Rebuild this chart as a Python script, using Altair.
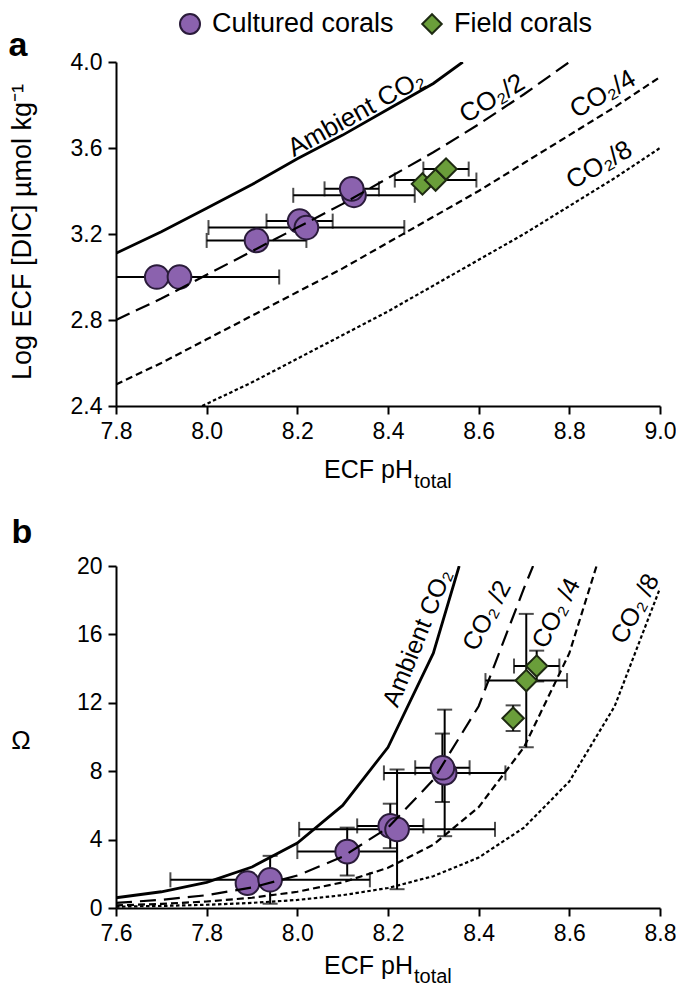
import altair as alt
import pandas as pd

FONT = "Liberation Sans"
PURPLE = "#8b62ae"
PURPLE_EDGE = "#2a1b3a"
GREEN = "#6a9e3a"
GREEN_EDGE = "#1e2a12"

# ---------------- data ----------------
# cultured corals
cult_ph = [7.89, 7.94, 8.11, 8.205, 8.22, 8.325, 8.32]
cult_ph_err = [0.0, 0.22, 0.11, 0.073, 0.216, 0.134, 0.06]
cult_logdic = [3.00, 3.00, 3.17, 3.26, 3.23, 3.38, 3.41]
cult_omega = [1.45, 1.65, 3.3, 4.8, 4.6, 7.9, 8.2]
cult_omega_err = [0.0, 1.4, 1.4, 1.3, 3.5, 3.7, 2.0]
# field corals
field_ph = [8.476, 8.505, 8.528]
field_ph_err = [0.0, 0.09, 0.05]
field_logdic = [3.433, 3.451, 3.502]
field_omega = [11.1, 13.3, 14.15]
field_omega_err = [0.75, 3.9, 0.9]

# panel a reference lines (log DIC vs pH)
a_amb_x = [7.8, 7.9, 8.0, 8.1, 8.2, 8.3, 8.4, 8.5, 8.565]
a_amb_y = [3.11, 3.21, 3.32, 3.43, 3.55, 3.66, 3.78, 3.90, 4.0]
a_half_x = [7.8, 7.9, 8.0, 8.1, 8.2, 8.3, 8.4, 8.5, 8.6, 8.7, 8.8]
a_half_y = [2.80, 2.90, 3.01, 3.12, 3.23, 3.34, 3.46, 3.58, 3.71, 3.85, 4.0]
a_quarter_x = [7.8, 7.9, 8.0, 8.1, 8.2, 8.3, 8.4, 8.5, 8.6, 8.7, 8.8, 8.9, 9.0]
a_quarter_y = [2.50, 2.60, 2.71, 2.82, 2.93, 3.04, 3.16, 3.28, 3.40, 3.53, 3.66, 3.79, 3.93]
a_eighth_x = [7.99, 8.0, 8.1, 8.2, 8.3, 8.4, 8.5, 8.6, 8.7, 8.8, 8.9, 9.0]
a_eighth_y = [2.40, 2.41, 2.51, 2.62, 2.73, 2.84, 2.96, 3.08, 3.20, 3.33, 3.46, 3.60]

# panel b reference lines (Omega vs pH)
b_amb_x = [7.6, 7.7, 7.8, 7.9, 8.0, 8.1, 8.2, 8.3, 8.357]
b_amb_y = [0.6, 0.95, 1.5, 2.4, 3.8, 6.0, 9.4, 14.9, 20.0]
b_half_x = [7.6, 7.7, 7.8, 7.9, 8.0, 8.1, 8.2, 8.3, 8.4, 8.5, 8.52]
b_half_y = [0.3, 0.48, 0.75, 1.2, 1.9, 3.0, 4.7, 7.5, 11.8, 18.7, 20.0]
b_quarter_x = [7.6, 7.7, 7.8, 7.9, 8.0, 8.1, 8.2, 8.3, 8.4, 8.5, 8.6, 8.66]
b_quarter_y = [0.15, 0.24, 0.38, 0.6, 0.95, 1.5, 2.35, 3.7, 5.9, 9.4, 14.9, 20.0]
b_eighth_x = [7.6, 7.7, 7.8, 7.9, 8.0, 8.1, 8.2, 8.3, 8.4, 8.5, 8.6, 8.7, 8.8]
b_eighth_y = [0.08, 0.12, 0.19, 0.3, 0.47, 0.75, 1.17, 1.86, 2.95, 4.7, 7.4, 11.8, 18.7]

a_x_ticks = [7.8, 8.0, 8.2, 8.4, 8.6, 8.8, 9.0]
a_y_ticks = [2.4, 2.8, 3.2, 3.6, 4.0]
b_x_ticks = [7.6, 7.8, 8.0, 8.2, 8.4, 8.6, 8.8]
b_y_ticks = [0, 4, 8, 12, 16, 20]

# ---------------- helpers ----------------
W_A, H_A = 544, 344
W_B, H_B = 544, 342
LBL = 23      # tick label size
TTL = 25      # axis title size
CRV = 26      # curve label size


def axis(values, fmt):
    return alt.Axis(values=values, format=fmt, title=None, grid=False,
                    domainColor="black", domainWidth=2, tickColor="black",
                    tickWidth=2, tickSize=8, labelFont=FONT, labelFontSize=LBL,
                    labelColor="black", labelPadding=6, labelFlush=False)


def scales(xdom, ydom, xt, yt, xfmt, yfmt):
    xs = alt.Scale(domain=xdom, nice=False, zero=False)
    ys = alt.Scale(domain=ydom, nice=False, zero=False)
    return (lambda f: alt.X(f, type="quantitative", scale=xs, axis=axis(xt, xfmt))), \
           (lambda f: alt.Y(f, type="quantitative", scale=ys, axis=axis(yt, yfmt)))


def curve(X, Y, xs, ys, dash, width):
    df = pd.DataFrame({"x": xs, "y": ys, "o": range(len(xs))})
    kw = dict(color="black", strokeWidth=width, clip=True)
    if dash:
        kw["strokeDash"] = dash
    return alt.Chart(df).mark_line(**kw).encode(X("x"), Y("y"), order="o:Q")


def herr(X, Y, xs, ys, errs):
    rows = [(x - e, x + e, y) for x, y, e in zip(xs, ys, errs) if e > 0]
    df = pd.DataFrame(rows, columns=["lo", "hi", "y"])
    caps = pd.DataFrame([(r[0], r[2]) for r in rows] + [(r[1], r[2]) for r in rows],
                        columns=["x", "y"])
    bar = alt.Chart(df).mark_rule(color="black", strokeWidth=2, clip=True).encode(
        X("lo"), x2="hi:Q", y=Y("y"))
    cap = alt.Chart(caps).mark_tick(color="black", orient="vertical", size=15,
                                    thickness=2, clip=True).encode(X("x"), Y("y"))
    return bar + cap


def verr(X, Y, xs, ys, errs):
    rows = [(x, y - e, y + e) for x, y, e in zip(xs, ys, errs) if e > 0]
    df = pd.DataFrame(rows, columns=["x", "lo", "hi"])
    caps = pd.DataFrame([(r[0], r[1]) for r in rows] + [(r[0], r[2]) for r in rows],
                        columns=["x", "y"])
    bar = alt.Chart(df).mark_rule(color="black", strokeWidth=2, clip=True).encode(
        X("x"), Y("lo"), y2="hi:Q")
    cap = alt.Chart(caps).mark_tick(color="black", orient="horizontal", size=15,
                                    thickness=2, clip=True).encode(X("x"), Y("y"))
    return bar + cap


def points(X, Y, xs, ys, shape, size, fill, edge):
    df = pd.DataFrame({"x": xs, "y": ys})
    return alt.Chart(df).mark_point(shape=shape, size=size, filled=True, fill=fill,
                                    stroke=edge, strokeWidth=2, opacity=1).encode(X("x"), Y("y"))


def label(X, Y, x, y, text, angle, size=CRV):
    df = pd.DataFrame({"x": [x], "y": [y], "t": [text]})
    return alt.Chart(df).mark_text(font=FONT, fontSize=size, angle=angle, color="black",
                                   align="center", baseline="middle").encode(
        X("x"), Y("y"), text="t:N")


def ptext(px, py, text, size=TTL, align="left", weight="normal", angle=0, baseline="alphabetic"):
    df = pd.DataFrame({"t": [text]})
    return alt.Chart(df).mark_text(font=FONT, fontSize=size, align=align, baseline=baseline,
                                   fontWeight=weight, angle=angle, color="black").encode(
        x=alt.value(px), y=alt.value(py), text="t:N")


# ---------------- panel a ----------------
XA, YA = scales([7.8, 9.0], [2.4, 4.0], a_x_ticks, a_y_ticks, ".1f", ".1f")

LEG_Y = -38
legend_pts = pd.DataFrame({"s": ["c"]})
leg_circle = alt.Chart(legend_pts).mark_point(shape="circle", size=400, filled=True, fill=PURPLE,
                                               stroke=PURPLE_EDGE, strokeWidth=2, opacity=1).encode(
    x=alt.value(74), y=alt.value(LEG_Y))
leg_diamond = alt.Chart(legend_pts).mark_point(shape="diamond", size=380, filled=True, fill=GREEN,
                                                stroke=GREEN_EDGE, strokeWidth=2, opacity=1).encode(
    x=alt.value(316), y=alt.value(LEG_Y))

panel_a = alt.layer(
    herr(XA, YA, cult_ph, cult_logdic, cult_ph_err),
    herr(XA, YA, field_ph, field_logdic, field_ph_err),
    points(XA, YA, cult_ph, cult_logdic, "circle", 560, PURPLE, PURPLE_EDGE),
    points(XA, YA, field_ph, field_logdic, "diamond", 460, GREEN, GREEN_EDGE),
    curve(XA, YA, a_amb_x, a_amb_y, None, 2.8),
    curve(XA, YA, a_half_x, a_half_y, [15, 7], 2.2),
    curve(XA, YA, a_quarter_x, a_quarter_y, [7, 4], 2.2),
    curve(XA, YA, a_eighth_x, a_eighth_y, [3.5, 2.5], 2.2),
    label(XA, YA, 8.33, 3.76, "Ambient CO₂", 331),
    label(XA, YA, 8.63, 3.83, "CO₂/2", 329),
    label(XA, YA, 8.874, 3.85, "CO₂/4", 330),
    label(XA, YA, 8.866, 3.52, "CO₂/8", 330),
    ptext(297, 416, "ECF pH", align="right"),
    ptext(298, 426, "total", size=20),
    ptext(-93, 170, "Log ECF [DIC] µmol kg⁻¹", size=27, angle=270, align="center", baseline="middle"),
    ptext(-98, -6, "a", size=34, weight="bold", align="center"),
    leg_circle, leg_diamond,
    ptext(96, LEG_Y, "Cultured corals", size=27, baseline="middle"),
    ptext(338, LEG_Y, "Field corals", size=27, baseline="middle"),
).properties(width=W_A, height=H_A)

# ---------------- panel b ----------------
XB, YB = scales([7.6, 8.8], [0, 20], b_x_ticks, b_y_ticks, ".1f", "d")

panel_b = alt.layer(
    herr(XB, YB, cult_ph, cult_omega, cult_ph_err),
    herr(XB, YB, field_ph, field_omega, field_ph_err),
    verr(XB, YB, cult_ph, cult_omega, cult_omega_err),
    verr(XB, YB, field_ph, field_omega, field_omega_err),
    points(XB, YB, cult_ph, cult_omega, "circle", 560, PURPLE, PURPLE_EDGE),
    points(XB, YB, field_ph, field_omega, "diamond", 460, GREEN, GREEN_EDGE),
    curve(XB, YB, b_amb_x, b_amb_y, None, 2.8),
    curve(XB, YB, b_half_x, b_half_y, [16, 8], 2.2),
    curve(XB, YB, b_quarter_x, b_quarter_y, [7, 4], 2.2),
    curve(XB, YB, b_eighth_x, b_eighth_y, [3.5, 2.5], 2.2),
    label(XB, YB, 8.265, 15.8, "Ambient CO₂", 292, size=25),
    label(XB, YB, 8.418, 17.1, "CO₂ /2", 298, size=25),
    label(XB, YB, 8.571, 17.25, "CO₂ /4", 298, size=25),
    label(XB, YB, 8.745, 17.5, "CO₂ /8", 298, size=25),
    ptext(297, 408, "ECF pH", align="right"),
    ptext(298, 417, "total", size=20),
    ptext(-95, 175, "Ω", size=26, align="center", baseline="middle"),
    ptext(-94, -23, "b", size=34, weight="bold", align="center"),
).properties(width=W_B, height=H_B)

chart = alt.vconcat(panel_a, panel_b, spacing=160, bounds="flush").properties(
    padding={"left": 0, "top": 2, "right": 0, "bottom": 0}
).configure_view(stroke=None)

chart.save("out.html", embed_options={"renderer": "svg", "actions": False})
